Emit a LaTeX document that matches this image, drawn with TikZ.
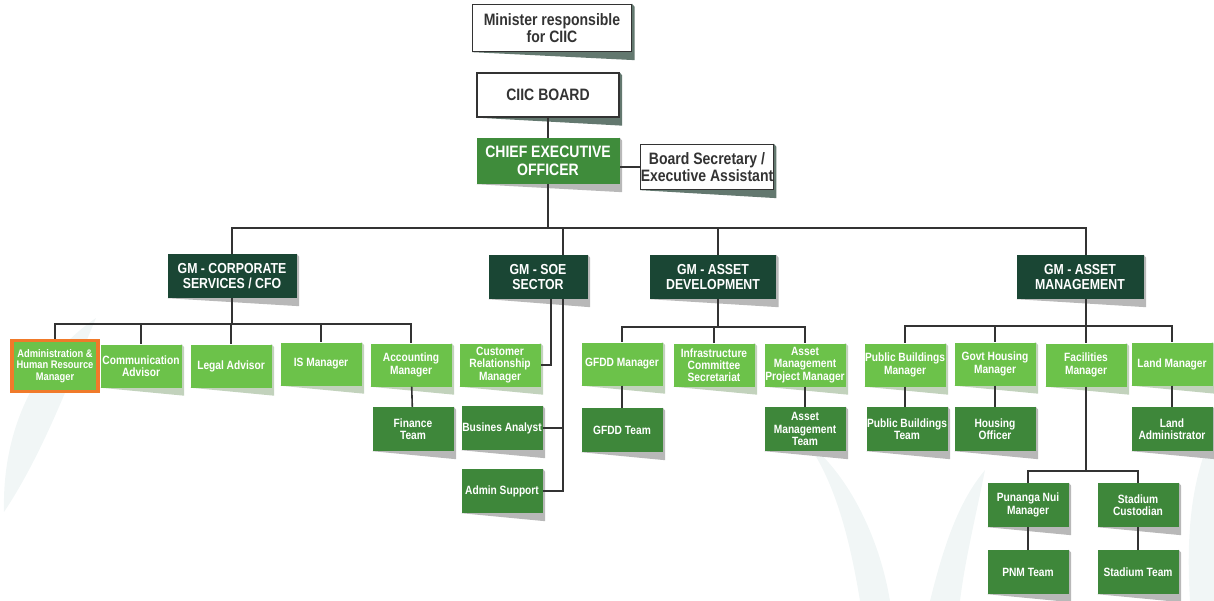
\documentclass[tikz,border=0pt]{standalone}
\usepackage{fontspec}
\setmainfont{Liberation Sans}[FakeStretch=0.85]
\usetikzlibrary{shadows}
\pgfdeclarelayer{background}
\pgfsetlayers{background,main}
\definecolor{lightgreen}{HTML}{6CC24A}
\definecolor{midgreen}{HTML}{3E873A}
\definecolor{darkgreen}{HTML}{1A4634}
\definecolor{ceogreen}{HTML}{3F8C3B}
\definecolor{hlorange}{HTML}{F07A2A}
\definecolor{linegrey}{HTML}{333333}
\definecolor{leafgrey}{HTML}{F1F6F6}
\tikzstyle{topblock} = [draw=black!80, line width=1.3pt, fill=white, text=black!80, align=center, inner sep=0pt, font=\fontsize{16.5}{17.5}\selectfont\bfseries]
\tikzstyle{ceoblock} = [fill=ceogreen, text=white, align=center, inner sep=0pt, font=\fontsize{16.5}{17.5}\selectfont\bfseries]
\tikzstyle{gmblock} = [fill=darkgreen, text=white, align=center, inner sep=0pt, minimum height=44pt, font=\fontsize{14.5}{15}\selectfont\bfseries]
\tikzstyle{unitblock} = [fill=lightgreen, text=white, align=center, minimum width=81pt, inner sep=0pt, minimum height=43pt, font=\fontsize{12}{12.2}\selectfont\bfseries]
\tikzstyle{teamblock} = [unitblock, fill=midgreen, minimum height=44pt]
\tikzstyle{hrblock} = [unitblock, draw=hlorange, line width=3.5pt, minimum width=86pt, minimum height=51pt, font=\fontsize{11}{11.3}\selectfont\bfseries]
\tikzstyle{line} = [draw, line width=1.6pt, color=linegrey]
\tikzstyle{shadowdark} = [fill=darkgreen!55!gray!85]
\tikzstyle{shadowgrey} = [fill=black!28]
\tikzstyle{shadowlight} = [fill=lightgreen!40!gray!45]
\newcommand{\gmblock}[3]{node (g#1) [gmblock, minimum width=#2pt] {#3}}
\newcommand{\unitblock}[2]{node (u#1) [unitblock] {#2}}
\newcommand{\teamblock}[2]{node (t#1) [teamblock] {#2}}
\newcommand{\boxshadow}[2]{\fill[#1] (#2.south west) -- ([xshift=2.5pt,yshift=-8pt]#2.south east) -- ([xshift=2.5pt,yshift=-3pt]#2.north east) -- (#2.north east) -- cycle;}

\begin{document}
\begin{tikzpicture}[x=1pt,y=-1pt]
\useasboundingbox (0,0) rectangle (1214,601);

% top of the chart
\path (552,28) node (minister) [topblock, minimum width=159pt, minimum height=47pt] {Minister responsible\\for CIIC};
\path (548,95) node (board) [topblock, minimum width=142pt, minimum height=44pt] {CIIC BOARD};
\path (548,161) node (ceo) [ceoblock, minimum width=143pt, minimum height=46pt] {CHIEF EXECUTIVE\\OFFICER};
\path (707,167) node (sec) [topblock, minimum width=128pt, minimum height=45pt] {Board Secretary /\\Executive Assistant};

% general managers
\path (232,276) \gmblock{corp}{129}{GM - CORPORATE\\SERVICES / CFO};
\path (538,277) \gmblock{soe}{99}{GM - SOE\\SECTOR};
\path (713,277) \gmblock{adev}{126}{GM - ASSET\\DEVELOPMENT};
\path (1080,277) \gmblock{amgt}{127}{GM - ASSET\\MANAGEMENT};

% corporate services
\path (55,366) node (uhr) [hrblock] {Administration \&\\Human Resource\\Manager};
\path (141,366) \unitblock{comm}{Communication\\Advisor};
\path (231,366) \unitblock{legal}{Legal Advisor};
\path (321,364) \unitblock{is}{IS Manager};
\path (411,365) \unitblock{acct}{Accounting\\Manager};
\path (uacct)+(2,64) \teamblock{fin}{Finance\\Team};

% soe sector
\path (500,365) \unitblock{crm}{Customer\\Relationship\\Manager};
\path (502,428) \teamblock{ba}{Busines Analyst};
\path (502,491) \teamblock{admin}{Admin Support};

% asset development
\path (622,364) \unitblock{gfdd}{GFDD Manager};
\path (714,365) \unitblock{ics}{Infrastructure\\Committee\\Secretariat};
\path (805,365) \unitblock{ampm}{Asset\\Management\\Project Manager};
\path (ugfdd)+(0,66) \teamblock{gfdd}{GFDD Team};
\path (uampm)+(0,64) \teamblock{amt}{Asset\\Management\\Team};

% asset management
\path (905,365) \unitblock{pbm}{Public Buildings\\Manager};
\path (995,364) \unitblock{ghm}{Govt Housing\\Manager};
\path (1086,365) \unitblock{fac}{Facilities\\Manager};
\path (1172,364) \unitblock{land}{Land Manager};
\path (upbm)+(2,64) \teamblock{pbt}{Public Buildings\\Team};
\path (ughm)+(0,65) \teamblock{ho}{Housing\\Officer};
\path (uland)+(0,65) \teamblock{la}{Land\\Administrator};
\path (1028,505) \teamblock{pnmgr}{Punanga Nui\\Manager};
\path (1138,505) \teamblock{stadc}{Stadium\\Custodian};
\path (tpnmgr)+(0,67) \teamblock{pnm}{PNM Team};
\path (tstadc)+(0,67) \teamblock{stad}{Stadium Team};

% leaves and shadows behind the boxes
\begin{pgfonlayer}{background}
\fill[leafgrey] (4,512) .. controls (2,430) and (35,360) .. (96,318) .. controls (68,385) and (42,455) .. (4,512);
\fill[leafgrey] (860,601) .. controls (850,540) and (835,480) .. (805,440) .. controls (850,475) and (880,540) .. (890,601);
\fill[leafgrey] (930,601) .. controls (945,540) and (960,500) .. (985,470) .. controls (975,520) and (965,560) .. (960,601);
\fill[leafgrey] (1214,430) .. controls (1195,470) and (1185,520) .. (1190,601) -- (1214,601);
\foreach \n in {minister,board,sec}
  {\boxshadow{shadowdark}{\n}}
\foreach \n in {ceo,gcorp,gsoe,gadev,gamgt,tfin,tba,tadmin,tgfdd,tamt,tpbt,tho,tla,tpnmgr,tstadc,tpnm,tstad}
  {\boxshadow{shadowgrey}{\n}}
\foreach \n in {ucomm,ulegal,uis,uacct,ucrm,ugfdd,uics,uampm,upbm,ughm,ufac,uland}
  {\boxshadow{shadowlight}{\n}}
\end{pgfonlayer}

% connectors
\coordinate (gmbar) at (548,228);
\coordinate (corpbar) at (232,324);
\coordinate (soespine) at (563,299);
\coordinate (adevbar) at (718,327);
\coordinate (amgtbar) at (1086,326);
\coordinate (facbar) at (1086,471);

\path [line] (board) -- (ceo);
\path [line] (sec.west) -- (sec.west -| ceo.east);
\path [line] (ceo) -- (gmbar);
\path [line] (gmbar) -| (gcorp);
\path [line] (gmbar) -| ([xshift=25pt]gsoe.north);
\path [line] (gmbar) -| ([xshift=5pt]gadev.north);
\path [line] (gmbar) -| ([xshift=6pt]gamgt.north);

\path [line] (gcorp) -- (corpbar);
\foreach \u in {hr,comm,legal,is,acct}
  \path [line] (corpbar) -| (u\u);
\path [line] (uacct) -- (tfin);

\path [line] ([xshift=13pt]gsoe.south) |- (ucrm);
\path [line] (soespine) |- (tba);
\path [line] (soespine) |- (tadmin);

\path [line] ([xshift=5pt]gadev.south) -- (adevbar);
\foreach \u in {gfdd,ics,ampm}
  \path [line] (adevbar) -| (u\u);
\path [line] (ugfdd) -- (tgfdd);
\path [line] (uampm) -- (tamt);

\path [line] ([xshift=6pt]gamgt.south) -- (amgtbar);
\foreach \u in {pbm,ghm,fac,land}
  \path [line] (amgtbar) -| (u\u);
\path [line] (upbm) -- (upbm |- tpbt.north);
\path [line] (ughm) -- (tho);
\path [line] (uland) -- (tla);
\path [line] (ufac) -- (facbar);
\path [line] (facbar) -| (tpnmgr);
\path [line] (facbar) -| (tstadc);
\path [line] (tpnmgr) -- (tpnm);
\path [line] (tstadc) -- (tstad);
\end{tikzpicture}
\end{document}
